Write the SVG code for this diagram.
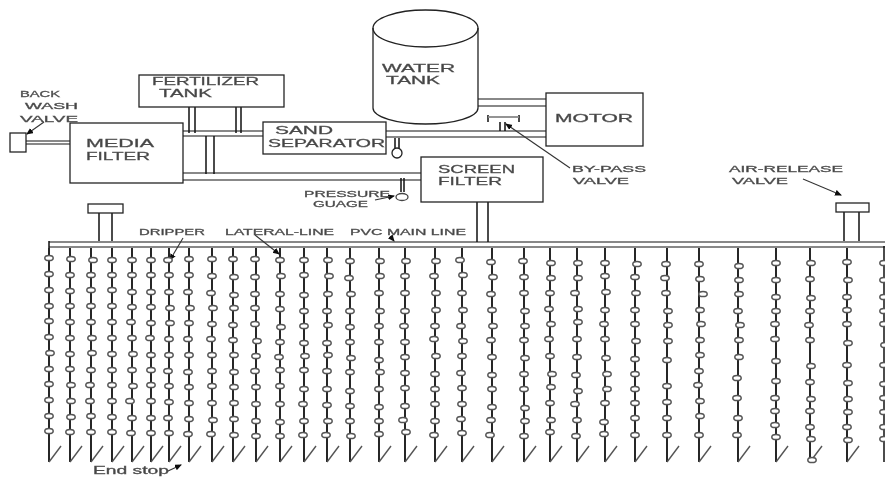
<svg xmlns="http://www.w3.org/2000/svg" width="885" height="477" viewBox="0 0 885 477">
<style>
.t{font-family:"Liberation Sans",Arial,sans-serif;font-size:11px;fill:#444;stroke:#555;stroke-width:.3}
.s{font-size:8.500px}
.b{fill:#fff;stroke:#222;stroke-width:1.300}
.v{fill:none;stroke:#111;stroke-width:1.500}
.h{fill:none;stroke:#888;stroke-width:1.800}
.a{fill:none;stroke:#333;stroke-width:1.100;marker-end:url(#ah)}
.l{fill:none;stroke:#111;stroke-width:1.800;marker-end:url(#tick)}
.d{fill:none;stroke:none;marker-start:url(#dr);marker-mid:url(#dr);marker-end:url(#dr)}
</style>
<defs>
<filter id="soft" x="0" y="0" width="885" height="477" filterUnits="userSpaceOnUse"><feGaussianBlur stdDeviation="0.45"/></filter>
<marker id="ah" markerUnits="userSpaceOnUse" markerWidth="8" markerHeight="8" refX="6" refY="3" orient="auto"><path d="M0 0L7 3L0 6z" fill="#111"/></marker>
<marker id="tick" markerUnits="userSpaceOnUse" markerWidth="16" markerHeight="20" refX="1" refY="18" overflow="visible"><path d="M1 18L13 2" fill="none" stroke="#555" stroke-width="1.400"/></marker>
<marker id="dr" markerUnits="userSpaceOnUse" markerWidth="12" markerHeight="8" refX="6" refY="4"><ellipse cx="6" cy="4" rx="4.200" ry="2.600" fill="#fff" stroke="#555" stroke-width="1.500"/></marker>
</defs>
<rect width="885" height="477" fill="#fff"/>
<g filter="url(#soft)">
<g id="connectors">
<path class="h" d="M26 141H70M26 144H70M183 131H263M183 136H263M183 173H421M183 180H421M478 99H546M478 106H546M386 131H546M386 137H546M49 242H885M49 247H885"/>
<path class="v" d="M189 107V133M195 107V133M236 107V133M241 107V133M206 136V174M214 136V174M395 138V149M399 138V149M401 178V192M404 178V192M477 202V242M488 202V242M99 213V241M112 213V241M844 212V241M859 212V241M500 122V131M505 122V131"/>
<path class="a" d="M570 168L506 124"/>
<path class="a" d="M803 179L841 195"/>
<path class="a" d="M375 200L394 196"/>
<path class="a" d="M44 122L27 134"/>
<path class="a" d="M183 238L170 260"/>
<path class="a" d="M255 235L279 254"/>
<path class="a" d="M390 236L394 241"/>
<path class="a" d="M168 471L181 465"/>
</g>
<g id="laterals">
<path class="v" d="M49 241V248"/>
<path class="l" d="M49 248V462"/><polyline class="d" points="49,258 49,274 49,290 49,306 49,321 49,337 50,353 49,369 49,384 49,400 49,416 49,431"/>
<path class="l" d="M70 248V462"/><polyline class="d" points="71,259 70,275 70,291 70,306 70,322 70,338 70,354 70,369 71,385 71,401 71,417 70,432"/>
<path class="l" d="M91 248V462"/><polyline class="d" points="93,260 91,275 91,290 91,306 91,322 92,338 92,353 91,370 90,385 90,401 91,416 91,432"/>
<path class="l" d="M112 248V462"/><polyline class="d" points="112,260 112,275 112,290 112,306 112,322 112,338 112,354 112,370 112,385 112,401 112,417 112,432"/>
<path class="l" d="M132 248V462"/><polyline class="d" points="132,260 132,275 132,292 132,307 131,322 132,338 133,354 132,370 133,386 130,401 132,418 131,433"/>
<path class="l" d="M151 248V462"/><polyline class="d" points="151,260 151,275 151,292 151,307 151,323 150,338 151,355 151,370 151,385 151,401 151,418 151,433"/>
<path class="l" d="M169 248V462"/><polyline class="d" points="168,260 169,275 169,292 170,308 170,323 169,339 169,355 168,371 169,386 169,402 168,418 169,433"/>
<path class="l" d="M189 248V462"/><polyline class="d" points="189,259 189,275 188,292 190,308 189,323 188,339 189,355 188,372 189,387 189,403 189,419 188,434"/>
<path class="l" d="M212 248V462"/><polyline class="d" points="212,259 212,276 211,293 213,308 212,324 211,339 212,355 212,371 212,386 212,403 213,420 211,434"/>
<path class="l" d="M233 248V462"/><polyline class="d" points="233,259 234,277 234,295 234,308 233,325 233,340 234,355 234,372 234,387 234,403 234,419 234,435"/>
<path class="l" d="M256 248V462"/><polyline class="d" points="255,259 255,277 255,294 255,308 255,324 257,341 256,356 255,371 256,387 256,404 256,421 256,436"/>
<path class="l" d="M280 248V462"/><polyline class="d" points="280,260 281,276 280,294 280,309 281,327 280,342 279,357 280,370 280,386 280,404 280,422 280,436"/>
<path class="l" d="M304 248V462"/><polyline class="d" points="304,260 304,275 304,295 304,311 304,326 304,343 305,356 304,370 304,389 303,404 304,421 303,435"/>
<path class="l" d="M327 248V462"/><polyline class="d" points="328,260 329,276 328,294 327,311 328,325 327,343 328,355 327,371 327,389 327,405 328,421 326,435"/>
<path class="l" d="M350 248V462"/><polyline class="d" points="350,261 349,278 351,294 350,311 350,327 350,342 351,358 350,372 350,391 350,406 350,421 351,436"/>
<path class="l" d="M379 248V462"/><polyline class="d" points="380,261 380,276 379,293 380,311 379,326 379,342 379,360 380,372 379,389 379,407 379,421 379,434"/>
<path class="l" d="M405 248V462"/><polyline class="d" points="406,261 405,276 405,293 405,311 404,326 405,342 405,357 405,373 405,388 405,406 403,420 406,432"/>
<path class="l" d="M435 248V462"/><polyline class="d" points="436,261 434,276 436,293 436,310 435,326 434,339 436,356 435,374 435,389 435,404 435,421 434,435"/>
<path class="l" d="M462 248V462"/><polyline class="d" points="460,260 463,275 462,293 463,310 461,326 463,341 462,356 461,373 462,388 462,404 461,419 462,433"/>
<path class="l" d="M492 248V462"/><polyline class="d" points="491,262 493,277 491,294 492,310 493,326 491,340 492,357 492,375 492,389 492,407 491,420 490,435"/>
<path class="l" d="M524 248V462"/><polyline class="d" points="523,261 524,277 524,293 525,311 525,326 524,340 525,358 524,374 524,389 525,408 525,421 524,436"/>
<path class="l" d="M550 248V462"/><polyline class="d" points="551,263 551,278 550,293 549,309 551,324 549,339 550,356 552,374 551,387 550,403 551,420 550,432"/>
<path class="l" d="M577 248V462"/><polyline class="d" points="578,263 578,278 575,293 578,309 578,322 577,339 577,357 576,375 578,391 575,404 577,420 576,436"/>
<path class="l" d="M605 248V462"/><polyline class="d" points="605,263 605,276 606,292 605,310 604,324 605,339 606,358 607,374 607,389 605,403 604,422 604,434"/>
<path class="l" d="M635 248V462"/><polyline class="d" points="637,264 635,277 636,293 635,310 635,324 636,341 635,359 635,374 635,389 635,403 635,418 635,435"/>
<path class="l" d="M667 248V462"/><polyline class="d" points="666,264 665,278 666,293 668,311 668,325 668,341 667,360 667,386 667,402 667,418 667,435"/>
<path class="l" d="M699 248V462"/><polyline class="d" points="699,264 700,279 703,294 700,310 701,324 700,340 700,355 699,371 698,385 700,401 700,416 699,435"/>
<path class="l" d="M738 248V462"/><polyline class="d" points="739,266 739,280 739,294 738,311 740,325 739,340 739,357 737,378 737,398 738,418 737,435"/>
<path class="l" d="M776 248V462"/><polyline class="d" points="776,263 776,280 776,297 776,311 775,324 775,339 776,361 776,381 775,398 775,411 775,425 776,437"/>
<path class="l" d="M810 248V462"/><polyline class="d" points="811,263 810,279 811,298 810,311 809,325 810,340 811,366 810,382 811,399 810,411 810,427 811,439 812,460"/>
<path class="l" d="M847 248V462"/><polyline class="d" points="847,262 848,280 847,297 847,310 847,324 848,343 847,365 848,383 848,399 848,412 847,427 848,440"/>
<path class="v" d="M884 246V462"/><polyline class="d" points="884,263 884,280 884,297 884,311 884,324 885,345 884,365 884,384 884,398 884,412 884,427 884,439"/>
</g>
<g id="water-tank">
<path class="b" d="M373 28A52.500 18 0 0 1 478 28V108A52.500 16 0 0 1 373 108Z"/>
<path class="b" style="fill:none" d="M373 28A52.500 19 0 0 0 478 28"/>
<text class="t" x="382" y="72" textLength="73" lengthAdjust="spacingAndGlyphs">WATER</text>
<text class="t" x="386" y="84" textLength="54" lengthAdjust="spacingAndGlyphs">TANK</text>
</g>
<g id="motor"><rect class="b" x="546" y="93" width="97" height="53"/><text class="t" x="555" y="122" textLength="78" lengthAdjust="spacingAndGlyphs">MOTOR</text></g>
<g id="fertilizer-tank"><rect class="b" x="139" y="75" width="145" height="32"/><text class="t" x="152" y="85" textLength="107" lengthAdjust="spacingAndGlyphs">FERTILIZER</text><text class="t" x="159" y="97" textLength="53" lengthAdjust="spacingAndGlyphs">TANK</text></g>
<g id="sand-separator"><rect class="b" x="263" y="122" width="123" height="32"/><text class="t" x="275" y="134" textLength="58" lengthAdjust="spacingAndGlyphs">SAND</text><text class="t" x="268" y="147" textLength="117" lengthAdjust="spacingAndGlyphs">SEPARATOR</text></g>
<g id="media-filter"><rect class="b" x="70" y="123" width="113" height="60"/><text class="t" x="86" y="147" textLength="68" lengthAdjust="spacingAndGlyphs">MEDIA</text><text class="t" x="86" y="160" textLength="64" lengthAdjust="spacingAndGlyphs">FILTER</text></g>
<g id="screen-filter"><rect class="b" x="421" y="157" width="122" height="45"/><text class="t" x="438" y="173" textLength="77" lengthAdjust="spacingAndGlyphs">SCREEN</text><text class="t" x="438" y="185" textLength="64" lengthAdjust="spacingAndGlyphs">FILTER</text></g>
<g id="back-wash-valve"><rect class="b" x="10" y="133" width="16" height="19"/><text class="t s" x="20" y="97" textLength="40" lengthAdjust="spacingAndGlyphs">BACK</text><text class="t s" x="25" y="109" textLength="53" lengthAdjust="spacingAndGlyphs">WASH</text><text class="t s" x="20" y="122" textLength="58" lengthAdjust="spacingAndGlyphs">VALVE</text></g>
<g id="gauge-sand"><circle cx="397" cy="153" r="5" fill="#fff" stroke="#222" stroke-width="1.300"/></g>
<g id="pressure-gauge"><ellipse cx="402" cy="197" rx="6" ry="3.500" fill="#fff" stroke="#444" stroke-width="1.300"/><text class="t s" x="304" y="197" textLength="86" lengthAdjust="spacingAndGlyphs">PRESSURE</text><text class="t s" x="313" y="207" textLength="55" lengthAdjust="spacingAndGlyphs">GUAGE</text></g>
<g id="by-pass-valve"><path class="v" d="M488 115V122M519 115V122"/><path class="h" d="M488 117H519"/><text class="t s" x="572" y="172" textLength="74" lengthAdjust="spacingAndGlyphs">BY-PASS</text><text class="t s" x="573" y="184" textLength="56" lengthAdjust="spacingAndGlyphs">VALVE</text></g>
<g id="air-valve-left"><rect class="b" x="88" y="204" width="35" height="9"/></g>
<g id="air-release-valve"><rect class="b" x="836" y="203" width="33" height="9"/><text class="t s" x="729" y="172" textLength="114" lengthAdjust="spacingAndGlyphs">AIR-RELEASE</text><text class="t s" x="732" y="184" textLength="56" lengthAdjust="spacingAndGlyphs">VALVE</text></g>
<g id="labels">
<text class="t s" x="139" y="235" textLength="66" lengthAdjust="spacingAndGlyphs">DRIPPER</text>
<text class="t s" x="225" y="235" textLength="109" lengthAdjust="spacingAndGlyphs">LATERAL-LINE</text>
<text class="t s" x="350" y="235" textLength="116" lengthAdjust="spacingAndGlyphs">PVC MAIN LINE</text>
<text class="t" style="font-size:10px" x="93" y="474" textLength="76" lengthAdjust="spacingAndGlyphs">End stop</text>
</g>
</g>
</svg>
